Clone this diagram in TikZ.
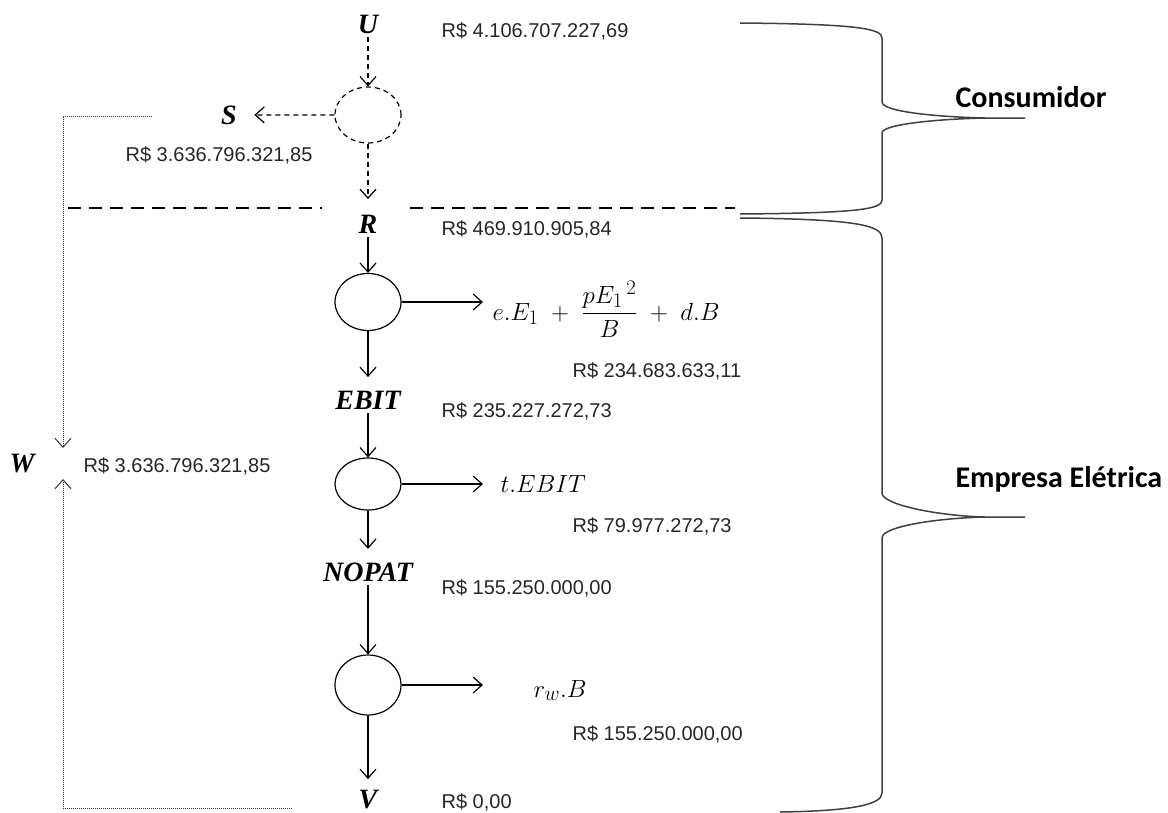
\documentclass[tikz,border=0pt]{standalone}
\usepackage{fontspec}
\usepackage{amsmath}
\setmainfont{Liberation Serif}
\newfontfamily\valfont{Liberation Sans}
\newfontfamily\varfont{Liberation Serif}
\newfontfamily\grpfont{Carlito}
\usetikzlibrary{arrows.meta,shapes.geometric}

\begin{document}
\begin{tikzpicture}[x=1pt,y=-1pt,line width=1.2pt,>={Straight Barb[length=9pt,width=16pt]},
  var/.style={inner sep=3pt,anchor=base,font=\varfont\bfseries\itshape\fontsize{28}{32}\selectfont},
  val/.style={inner sep=0pt,anchor=base west,text=black!85,font=\valfont\fontsize{20}{24}\selectfont},
  form/.style={inner sep=0pt,anchor=base west,font=\fontsize{24.88}{30}\selectfont},
  grp/.style={inner sep=0pt,anchor=base west,font=\grpfont\bfseries\fontsize{30}{34}\selectfont},
  box/.style={ellipse,draw,minimum width=66pt,inner sep=0pt},
  dbox/.style={box,dash pattern=on 5pt off 4pt},
  flow/.style={->},
  dflow/.style={->,dash pattern=on 5pt off 4pt},
  into/.style={shorten >=10pt},
  back/.style={->,line width=1pt,black!80,densely dotted},
  brace/.style={line width=1.5pt,black!75}]
  \clip (0,0) rectangle (1168,812);
  % ===================== consumidor =====================
  \node[var] (U) at (368,33){U};
  \node[dbox,minimum height=56pt] (c0) at (368,115){};
  \node[var] (S) at (229,124){S};
  \node[val] (vU) at (441,37){R\$ 4.106.707.227,69};
  \node[val] (vS) at (125,161){R\$ 3.636.796.321,85};
  \draw[dflow] (U) -- (c0);
  \draw[dflow,shorten >=14pt] (c0) -- (S);
  % linha divisoria
  \coordinate (d1) at (68,208); \coordinate (d2) at (322,208);
  \coordinate (d3) at (410,208); \coordinate (d4) at (735,208);
  \draw[dash pattern=on 13pt off 8pt] (d1) -- (d2) (d3) -- (d4);
  % ===================== empresa eletrica =====================
  \node[var] (R) at (368,233){R};
  \node[val] (vR) at (441,235){R\$ 469.910.905,84};
  \draw[dflow,shorten >=12pt] (c0) -- (R);
  \node[box,minimum height=57pt] (c1) at (368,302){};
  \node[form] (out1) at (492,320){$e.E_1 \;+\; \dfrac{{pE_1}^{\,2}}{B} \;+\; d.B$};
  \node[val] (v1) at (572,377){R\$ 234.683.633,11};
  \node[var] (EBIT) at (368,409){EBIT};
  \node[val] (vEBIT) at (441,417){R\$ 235.227.272,73};
  \node[box,minimum height=52pt] (c2) at (368,484){};
  \node[form] (out2) at (500,492){$t.EBIT$};
  \node[val] (v2) at (572,532){R\$ 79.977.272,73};
  \node[var] (NOPAT) at (368,581){NOPAT};
  \node[val] (vNOPAT) at (441,594){R\$ 155.250.000,00};
  \node[box,minimum height=60pt] (c3) at (368,685){};
  \node[form] (out3) at (533,697){$r_w.B$};
  \node[val] (v3) at (572,740){R\$ 155.250.000,00};
  \node[var] (V) at (368,808){V};
  \node[val] (vV) at (441,808){R\$ 0,00};
  % ---------- fluxos ----------
  \draw[flow] (R) -- (c1);
  \draw[flow] (c1.east) -- ([xshift=-9pt]c1.east -| out1.west);
  \draw[flow,into] (c1) -- (EBIT);
  \draw[flow] (EBIT) -- (c2);
  \draw[flow] (c2.east) -- ([xshift=-17pt]c2.east -| out2.west);
  \draw[flow,into] (c2) -- (NOPAT);
  \draw[flow] (NOPAT) -- (c3);
  \draw[flow] (c3.east) -- ([xshift=-50pt]c3.east -| out3.west);
  \draw[flow,shorten >=7pt] (c3) -- (V);
  % ---------- W ----------
  \node[var] (W) at (22,472){W};
  \node[val] (vW) at (83,472){R\$ 3.636.796.321,85};
  \coordinate (sl) at (152,116); \coordinate (wt) at (63,448);
  \coordinate (vl) at (292,808); \coordinate (wb) at (63,479);
  \draw[back] (sl) -| (wt);
  \draw[back] (vl) -| (wb);
  % ---------- chaves ----------
  \draw[brace] (740,23) .. controls (860,24) and (882,29) .. (882,38) -- (882,102)
    .. controls (882,112) and (940,117) .. (985,118) -- (1025,118);
  \draw[brace] (985,118) .. controls (940,119) and (882,124) .. (882,133) -- (882,200)
    .. controls (882,209) and (860,213) .. (740,214);
  \draw[brace] (740,218) .. controls (860,219) and (882,226) .. (882,238) -- (882,493)
    .. controls (882,505) and (940,516) .. (985,517) -- (1025,517);
  \draw[brace] (985,517) .. controls (940,518) and (882,526) .. (882,538) -- (882,793)
    .. controls (882,805) and (850,811) .. (780,812);
  \node[grp] (cons) at (955,107){Consumidor};
  \node[grp] (emp) at (955,487){Empresa Elétrica};
\end{tikzpicture}
\end{document}
